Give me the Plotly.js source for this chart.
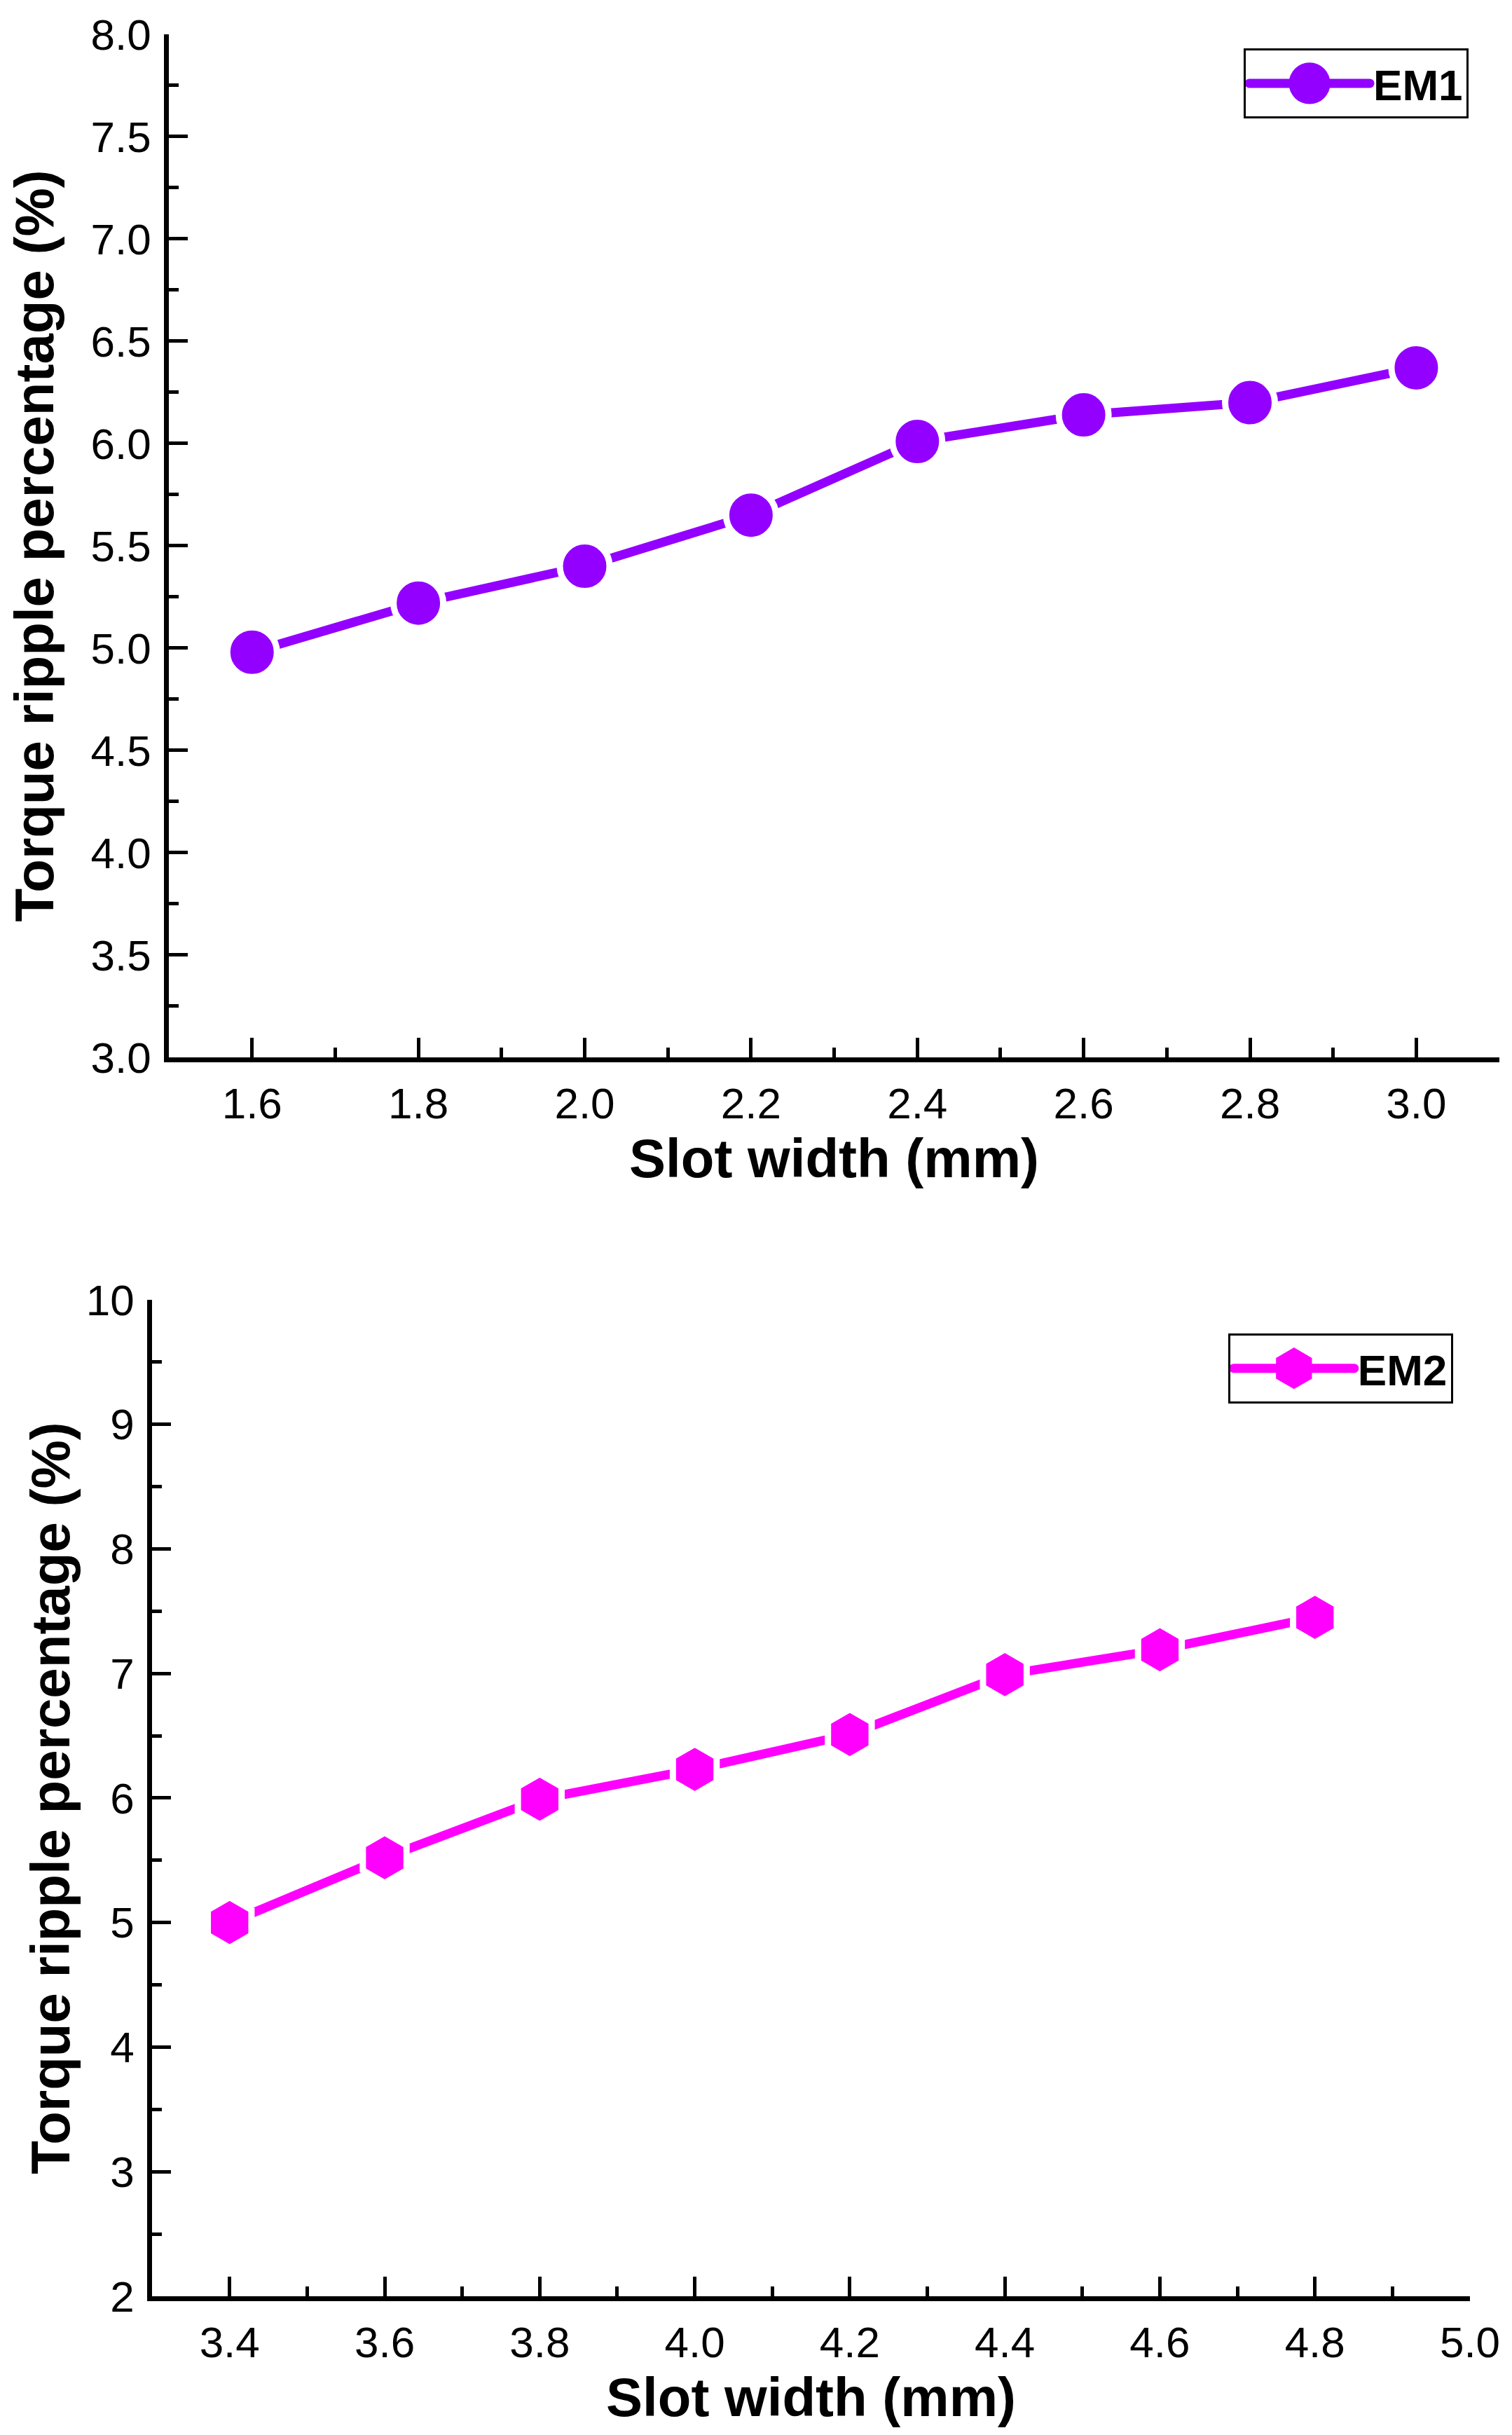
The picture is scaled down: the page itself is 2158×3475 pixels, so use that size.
<!DOCTYPE html>
<html>
<head>
<meta charset="utf-8">
<script src="https://cdn.plot.ly/plotly-3.0.1.min.js"></script>
<style>
  html, body { margin: 0; padding: 0; background: #fff; }
  #myDiv { width: 2158px; height: 3475px; }
</style>
</head>
<body>
<div id="myDiv"></div>
<script>
// slot widths (mm) and torque ripple (%)
var em1Width = [1.6, 1.8, 2.0, 2.2, 2.4, 2.6, 2.8, 3.0];
var em1Ripple = [4.98, 5.22, 5.40, 5.65, 6.01, 6.14, 6.20, 6.37];

var em2Width = [3.4, 3.6, 3.8, 4.0, 4.2, 4.4, 4.6, 4.8];
var em2Ripple = [5.00, 5.52, 5.99, 6.23, 6.51, 6.99, 7.19, 7.45];

var FONT = "'Liberation Sans', Arial, sans-serif";

em1 = {
    x: em1Width,
    y: em1Ripple,
    name: "<b>EM1</b>",
    mode: "lines+markers",
    line: { color: "#9300ff", width: 13 },
    marker: {
        color: "#9300ff",
        size: 71,
        symbol: "circle",
        line: { color: "#ffffff", width: 9 }
    },
    xaxis: "x",
    yaxis: "y",
    legend: "legend",
    type: "scatter",
    cliponaxis: false
};

em2 = {
    x: em2Width,
    y: em2Ripple,
    name: "<b>EM2</b>",
    mode: "lines+markers",
    line: { color: "#ff00ff", width: 13 },
    marker: {
        color: "#ff00ff",
        size: 72,
        symbol: "hexagon",
        line: { color: "#ffffff", width: 9 }
    },
    xaxis: "x2",
    yaxis: "y2",
    legend: "legend2",
    type: "scatter",
    cliponaxis: false
};

function xAxis(domain, range, anchor, standoff) {
    return {
        domain: domain,
        range: range,
        anchor: anchor,
        showgrid: false,
        zeroline: false,
        showline: true,
        linecolor: "#000",
        linewidth: 7,
        ticks: "inside",
        ticklen: 28,
        tickwidth: 5,
        tickcolor: "#000",
        tick0: 0,
        dtick: 0.2,
        tickformat: ".1f",
        ticklabelstandoff: 6,
        minor: { ticks: "inside", ticklen: 14, tickwidth: 5, tickcolor: "#000", dtick: 0.1, tick0: 0.1 },
        tickfont: { family: FONT, size: 62, color: "#000" },
        title: {
            text: "<b>Slot width (mm)</b>",
            font: { family: FONT, size: 78, color: "#000" },
            standoff: standoff
        }
    };
}

function yAxis(domain, range, anchor, dtick, fmt, standoff) {
    return {
        domain: domain,
        range: range,
        anchor: anchor,
        showgrid: false,
        zeroline: false,
        showline: true,
        linecolor: "#000",
        linewidth: 7,
        ticks: "inside",
        ticklen: 27,
        tickwidth: 5,
        tickcolor: "#000",
        tick0: 0,
        dtick: dtick,
        tickformat: fmt,
        ticklabelstandoff: 6,
        minor: { ticks: "inside", ticklen: 14, tickwidth: 5, tickcolor: "#000", dtick: dtick / 2 },
        tickfont: { family: FONT, size: 62, color: "#000" },
        title: {
            text: "<b>Torque ripple percentage (%)</b>",
            font: { family: FONT, size: 78, color: "#000" },
            standoff: standoff
        }
    };
}

var legendStyle = {
    bgcolor: "#fff",
    bordercolor: "#000",
    borderwidth: 3,
    xanchor: "right",
    yanchor: "top",
    itemwidth: 172,
    font: { family: FONT, size: 62, color: "#000" }
};

var legend1 = Object.assign({}, legendStyle, { x: 0.9713, y: 0.9801 });
var legend2 = Object.assign({}, legendStyle, { x: 0.961, y: 0.4524 });

Plotly.newPlot("myDiv", {
    data: [em1, em2],
    layout: {
        width: 2158,
        height: 3475,
        paper_bgcolor: "#fff",
        plot_bgcolor: "#fff",
        showlegend: true,
        margin: { b: 0, l: 0, r: 0, t: 0 },
        xaxis: xAxis([0.1117, 0.9917], [1.5, 3.1], "y", 20),
        yaxis: yAxis([0.5658, 0.9859], [3, 8], "x", 0.5, ".1f", 30),
        xaxis2: xAxis([0.1006, 0.9722], [3.3, 5.0], "y2", 16),
        yaxis2: yAxis([0.0570, 0.4662], [2, 10], "x2", 1, "d", 0),
        legend: legend1,
        legend2: legend2,
        hovermode: false
    },
    config: { displayModeBar: false, staticPlot: true }
}).then(function (gd) {
    // legend symbols are capped in size by plotly; enlarge them to match the plot markers
    gd.querySelectorAll(".legendpoints path.scatterpts").forEach(function (p) {
        var t = p.getAttribute("transform") || "";
        p.setAttribute("transform", t + " scale(3.7)");
        p.style.strokeWidth = "0px";
    });
    gd.querySelectorAll(".legendlines path.js-line").forEach(function (p) {
        p.style.strokeWidth = "13px";
        p.style.strokeLinecap = "round";
    });
});
</script>
</body>
</html>
